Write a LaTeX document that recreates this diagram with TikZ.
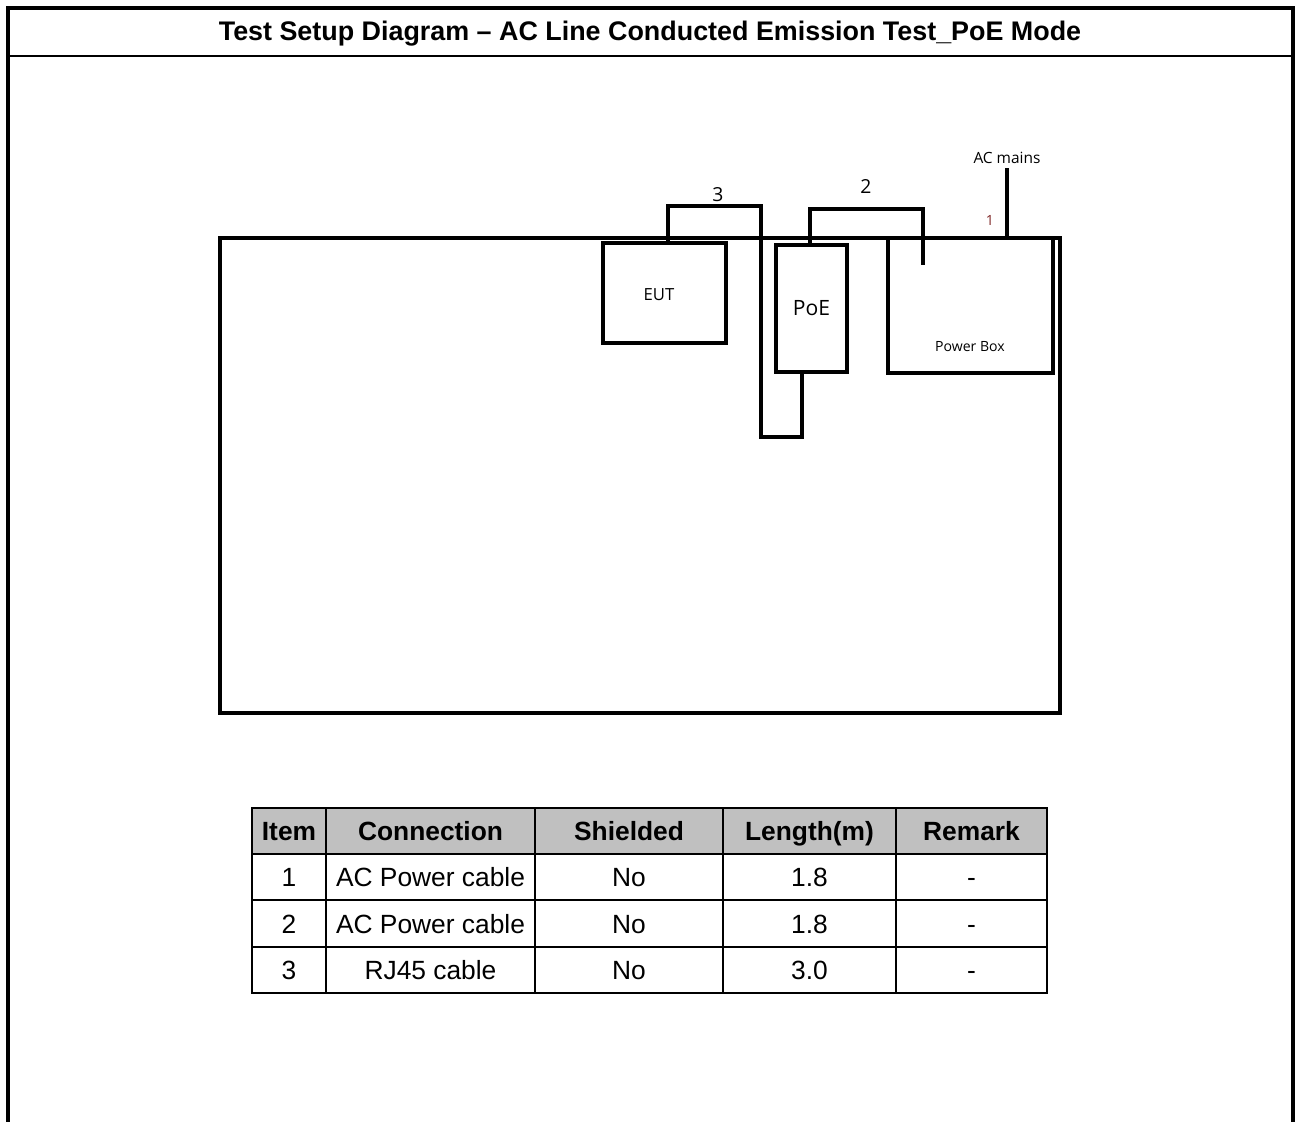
\documentclass[tikz,border=0pt]{standalone}
\usepackage{xcolor}
\usepackage{fontspec}
\setmainfont{Liberation Sans}
\newfontfamily\uifont{Open Sans}
\usetikzlibrary{positioning}
\definecolor{headgray}{RGB}{192,192,192}
\definecolor{cablered}{RGB}{128,40,40}

\begin{document}
\begin{tikzpicture}[x=0.02cm, y=-0.02cm,
    frame/.style={line width=2.2pt},
    unit/.style={draw, rectangle, line width=2pt, inner sep=0pt},
    cable/.style={line width=2pt},
    tag/.style={font=\uifont\fontsize{11}{13}\selectfont},
    cell/.style={draw, rectangle, line width=1.1pt, minimum height=0.92cm, inner sep=0pt,
        text height=12.5pt, text depth=1.5pt, font=\fontsize{15}{18}\selectfont},
    headcell/.style={cell, fill=headgray, font=\bfseries\fontsize{15}{18}\selectfont}]
    \useasboundingbox (0,0) rectangle (1295,1122);

    % page frame and title
    \draw[frame] (8,1122) -- (8,8) -- (1293,8) -- (1293,1122);
    \draw[line width=1.4pt] (8,56) -- (1293,56);
    \node (title) at (650,34) {\bfseries\fontsize{15.3}{18}\selectfont Test Setup Diagram -- AC Line Conducted Emission Test\_PoE Mode};

    % ground plane and units
    \node[unit, minimum width=16.8cm, minimum height=9.5cm] (bench) at (640,475.5) {};
    \node[unit, minimum width=2.46cm, minimum height=2cm] (eut) at (664.5,293) {};
    \node[font=\uifont\fontsize{9.5}{11}\selectfont] (euttext) at (659,295) {EUT};
    \node[unit, minimum width=1.42cm, minimum height=2.54cm, font=\uifont\fontsize{12}{14}\selectfont] (poe) at (811.5,308.5) {PoE};
    \node[unit, minimum width=3.3cm, minimum height=2.7cm] (pbox) at (970.5,305.5) {};
    \node[font=\uifont\fontsize{8}{10}\selectfont] (pbtext) at (970,347) {Power Box};

    % cables
    \coordinate (c3top) at (761,206);
    \coordinate (c3low) at (802,437);
    \draw[cable] ([xshift=0.07cm]eut.north) |- (c3top) |- (c3low) -- (c3low |- poe.south);
    \coordinate (c2top) at (923,209);
    \coordinate (c2end) at (923,265);
    \draw[cable] ([xshift=-0.03cm]poe.north) |- (c2top) -- (c2end);
    \coordinate (mains) at (1007,168);
    \draw[cable] (mains) -- (mains |- bench.north);

    \node[font=\uifont\fontsize{8.8}{10}\selectfont, above=-1pt of mains] (acmains) {AC mains};
    \node[tag] (l3) at (718,195) {3};
    \node[tag] (l2) at (866,187) {2};
    \node[font=\uifont\fontsize{8}{10}\selectfont, text=cablered] (l1) at (990,220) {1};

    % cable table
    \foreach \cx/\cw/\txt [count=\c] in {289/74/Item, 430.5/209/Connection, 629/188/Shielded, 809.5/173/Length(m), 971.5/151/Remark}
        \node[headcell, minimum width=\cw*0.02cm] (h\c) at (\cx,831) {\txt};
    \foreach \ry/\a/\b/\d [count=\r] in {877/1/AC Power cable/1.8, 923.5/2/AC Power cable/1.8, 970/3/RJ45 cable/3.0} {
        \node[cell, minimum width=1.48cm] (r\r-1) at (289,\ry) {\a};
        \node[cell, minimum width=4.18cm] (r\r-2) at (430.5,\ry) {\b};
        \node[cell, minimum width=3.76cm] (r\r-3) at (629,\ry) {No};
        \node[cell, minimum width=3.46cm] (r\r-4) at (809.5,\ry) {\d};
        \node[cell, minimum width=3.02cm] (r\r-5) at (971.5,\ry) {-};
    }
\end{tikzpicture}
\end{document}
